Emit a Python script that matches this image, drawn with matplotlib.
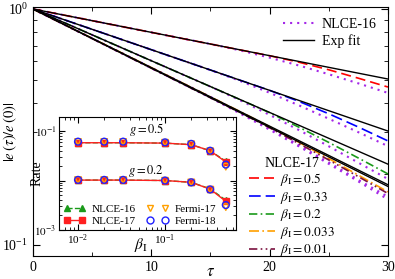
import numpy as np
import matplotlib
matplotlib.use("Agg")
import matplotlib.pyplot as plt
from matplotlib.ticker import NullFormatter, FixedLocator
from matplotlib.lines import Line2D

plt.rcParams['font.family'] = ['Liberation Serif', 'DejaVu Serif']
plt.rcParams['mathtext.fontset'] = 'stix'

# ---- main panel data ----
tau = [0, 2.5, 5, 7.5, 10, 12.5, 15, 17.5, 20, 22.5, 25, 27.5, 30]

n17_b05 = [1, 0.9446, 0.8923, 0.8428, 0.7961, 0.7520, 0.7103, 0.6710, 0.6338, 0.5946, 0.5526, 0.509, 0.467]
n17_b033 = [1, 0.9055, 0.8200, 0.7425, 0.6723, 0.6088, 0.5513, 0.4992, 0.4520, 0.4055, 0.3597, 0.3161, 0.276]
n17_b02 = [1, 0.8814, 0.7769, 0.6847, 0.6035, 0.5319, 0.4689, 0.4133, 0.3635, 0.3151, 0.2720, 0.2336, 0.200]
n17_b0033 = [1, 0.8668, 0.7513, 0.6512, 0.5645, 0.4893, 0.4241, 0.3676, 0.3171, 0.2718, 0.2323, 0.1977, 0.1679]
n17_b001 = [1, 0.8656, 0.7493, 0.6486, 0.5614, 0.4860, 0.4207, 0.3641, 0.3137, 0.2685, 0.2292, 0.1948, 0.1652]

n16_b05 = [1, 0.9446, 0.8923, 0.8428, 0.7961, 0.7520, 0.7103, 0.668, 0.622, 0.5757, 0.529, 0.484, 0.441]
n16_b033 = [1, 0.9055, 0.8200, 0.7425, 0.6723, 0.6088, 0.5513, 0.4958, 0.4416, 0.390, 0.3427, 0.3005, 0.2623]
n16_b02 = [1, 0.8814, 0.7769, 0.6847, 0.6035, 0.5319, 0.4689, 0.4105, 0.3559, 0.3064, 0.2619, 0.2232, 0.1903]
n16_b0033 = [1, 0.8668, 0.7513, 0.6512, 0.5645, 0.4893, 0.4241, 0.3642, 0.3113, 0.2643, 0.2237, 0.1887, 0.1600]
n16_b001 = [1, 0.8656, 0.7493, 0.6486, 0.5614, 0.4860, 0.4207, 0.3608, 0.3080, 0.2612, 0.2207, 0.1859, 0.1560]

# exp fits: straight lines on the log axis, value at tau=0 and tau=30
fit_tau = [0, 30]
fit_ends = [[1.0, 0.505], [1.0, 0.304], [1.0, 0.220], [1.0, 0.180], [1.0, 0.177]]

beta_labels = ['0.5', '0.33', '0.2', '0.033', '0.01']

# ---- inset data ----
beta = [0.01, 0.02, 0.033, 0.1, 0.2, 0.33, 0.5]
n16_g05 = [0.058, 0.058, 0.058, 0.057, 0.053, 0.040, 0.0245]
n17_g05 = [0.058, 0.058, 0.058, 0.057, 0.053, 0.040, 0.0237]
f17_g05 = [0.060, 0.060, 0.060, 0.058, 0.054, 0.039, 0.019]
f18_g05 = [0.061, 0.061, 0.061, 0.059, 0.055, 0.040, 0.021]
n16_g02 = [0.0102, 0.0102, 0.0102, 0.0100, 0.0092, 0.0068, 0.0040]
n17_g02 = [0.0102, 0.0102, 0.0102, 0.0100, 0.0092, 0.0067, 0.0038]
f17_g02 = [0.0102, 0.0102, 0.0102, 0.0099, 0.0091, 0.0065, 0.0029]
f18_g02 = [0.0103, 0.0103, 0.0103, 0.0100, 0.0092, 0.0066, 0.0032]

fig = plt.figure(figsize=(3.95, 2.79), dpi=100)
ax = fig.add_axes([0.0835, 0.0824, 0.8987, 0.8925])

purple = '#a428e8'
n16_all = [n16_b05, n16_b033, n16_b02, n16_b0033, n16_b001]
for i, y in enumerate(n16_all):
    ax.plot(tau, y, color=purple, ls=(0, (1, 2.4)), lw=1.5,
            label='NLCE-16' if i == 0 else None)

n17_all = [n17_b05, n17_b033, n17_b02, n17_b0033, n17_b001]
n17_cols = ['#ff0000', '#0000ff', '#1a9a1a', '#ffa000', '#7a1040']
n17_ls = [(0, (6, 3)), (0, (7, 3)), (0, (5, 2, 1, 2)), (0, (6, 2, 1, 2)), (0, (5, 2, 1, 2, 1, 2))]
for y, c, ls in zip(n17_all, n17_cols, n17_ls):
    ax.plot(tau, y, color=c, ls=ls, lw=1.2)

for i, f in enumerate(fit_ends):
    ax.plot(fit_tau, f, color='black', lw=1.0, label='Exp fit' if i == 0 else None)

ax.set_yscale('log')
ax.set_xlim(0, 30)
ax.set_ylim(0.0898, 1.0197)
ax.set_xticks([0, 10, 20, 30])
ax.xaxis.set_minor_locator(FixedLocator([5, 15, 25]))
ax.yaxis.set_minor_formatter(NullFormatter())
ax.tick_params(which='both', direction='in', top=True, right=True, labelsize=10)
ax.tick_params(which='major', length=5)
ax.tick_params(which='minor', length=3)
ax.set_xlabel(r'$\tau$', fontsize=12)
ax.xaxis.set_label_coords(0.5, -0.032)
ax.set_ylabel(r'$|e\,(\tau)/e\,(0)|$', fontsize=10.5)
ax.yaxis.set_label_coords(-0.04, 0.5)

h, l = ax.get_legend_handles_labels()
leg1 = ax.legend(h, l, loc='upper right', bbox_to_anchor=(1.0, 1.0), frameon=False,
                 fontsize=10, handlelength=2.2, handletextpad=0.6, labelspacing=0.2,
                 borderpad=0.3)
ax.add_artist(leg1)

h2 = [Line2D([], [], color=c, ls=ls, lw=1.2) for c, ls in zip(n17_cols, n17_ls)]
l2 = [r'$\beta_{\rm I} = %s$' % b for b in beta_labels]
leg2 = ax.legend(h2, l2, loc='lower right', bbox_to_anchor=(0.855, -0.015), frameon=False,
                 fontsize=9.5, title='NLCE-17', title_fontsize=10, handlelength=2.0,
                 handletextpad=0.4, labelspacing=0.12, borderpad=0.1, borderaxespad=0.0)

# ---- inset ----
ins = fig.add_axes([0.1494, 0.1756, 0.4481, 0.4050])
ins.set_facecolor('white')
for n16, n17, f17, f18 in [(n16_g05, n17_g05, f17_g05, f18_g05),
                           (n16_g02, n17_g02, f17_g02, f18_g02)]:
    ins.plot(beta, n16, color='#1a9a1a', ls='--', lw=1.0, marker='^', ms=4.5)
    ins.plot(beta, n17, color='#ff2020', ls='-', lw=1.0, marker='s', ms=4.0)
    ins.scatter(beta, f17, marker='v', s=22, facecolors='none', edgecolors='#ffa000', lw=1.0, zorder=3)
    ins.scatter(beta, f18, marker='o', s=24, facecolors='none', edgecolors='#2020ff', lw=1.0, zorder=4)

ins.set_xscale('log')
ins.set_yscale('log')
ins.set_xlim(0.00605, 0.655)
ins.set_ylim(1e-3, 0.192)
ins.set_yticks([1e-3, 1e-2, 1e-1])
ins.set_yticklabels([r'$10^{-3}$', '', r'$10^{-1}$'])
ins.xaxis.set_minor_formatter(NullFormatter())
ins.yaxis.set_minor_formatter(NullFormatter())
ins.tick_params(which='both', direction='in', top=True, right=True, labelsize=8)
ins.tick_params(which='major', length=4, pad=2)
ins.tick_params(which='minor', length=2)
ins.set_ylabel('Rate', fontsize=10)
ins.yaxis.set_label_coords(-0.085, 0.5)
ins.text(0.463, -0.135, r'$\beta_{\rm I}$', transform=ins.transAxes, fontsize=11,
         ha='center', va='center')
ins.text(0.062, 0.105, r'$g = 0.5$', fontsize=9, ha='center', va='center')
ins.text(0.060, 0.0158, r'$g = 0.2$', fontsize=9, ha='center', va='center')

ih = [Line2D([], [], color='#1a9a1a', ls='--', lw=1.0, marker='^', ms=4.5),
      Line2D([], [], color='#ff2020', ls='-', lw=1.0, marker='s', ms=4.0),
      Line2D([], [], ls='none', marker='v', ms=5, mfc='none', mec='#ffa000'),
      Line2D([], [], ls='none', marker='o', ms=5, mfc='none', mec='#2020ff')]
il = ['NLCE-16', 'NLCE-17', 'Fermi-17', 'Fermi-18']
ins.legend(ih, il, ncol=2, loc='lower left', frameon=False, fontsize=8,
           numpoints=2, handlelength=2.0, handletextpad=0.5, columnspacing=1.0,
           labelspacing=0.15, borderpad=0.2, borderaxespad=0.2)

fig.savefig('out.png', dpi=100)
